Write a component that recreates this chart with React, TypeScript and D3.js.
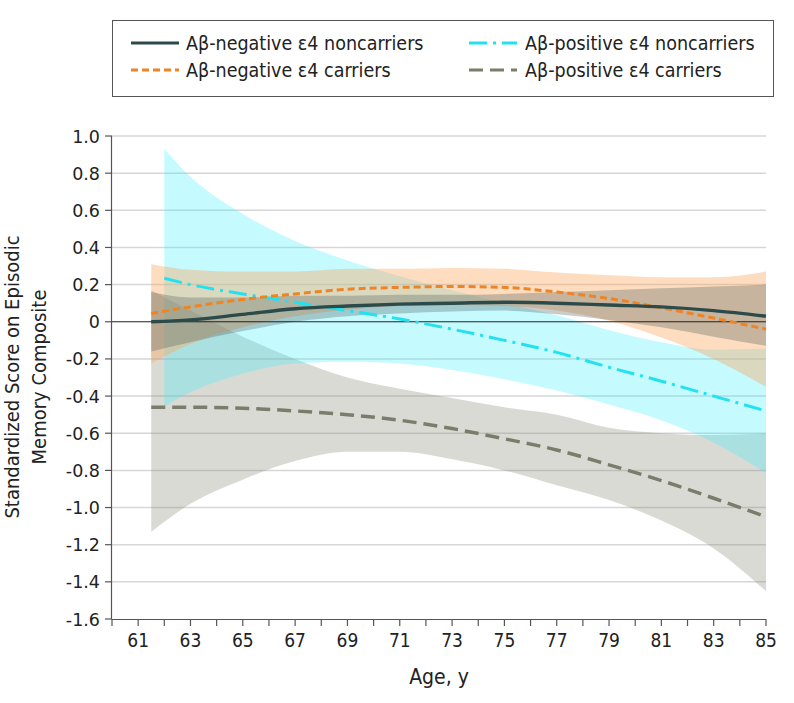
import React from "react";
import * as d3 from "d3";

const agesFull = [61.5, 63, 65, 67, 69, 71, 73, 75, 77, 79, 81, 83, 85];
const agesPosNon = [62, 63, 65, 67, 69, 71, 73, 75, 77, 79, 81, 83, 85];

const negNonMean = [0.0, 0.01, 0.04, 0.07, 0.085, 0.095, 0.1, 0.105, 0.1, 0.09, 0.08, 0.06, 0.03];
const negNonUpper = [0.16, 0.13, 0.13, 0.14, 0.14, 0.145, 0.145, 0.15, 0.16, 0.17, 0.18, 0.19, 0.2];
const negNonLower = [-0.16, -0.11, -0.05, 0.0, 0.03, 0.045, 0.055, 0.06, 0.04, 0.01, -0.03, -0.08, -0.13];

const negCarMean = [0.045, 0.08, 0.12, 0.15, 0.175, 0.185, 0.19, 0.185, 0.16, 0.125, 0.075, 0.02, -0.04];
const negCarUpper = [0.31, 0.28, 0.27, 0.27, 0.285, 0.285, 0.29, 0.285, 0.265, 0.25, 0.24, 0.24, 0.27];
const negCarLower = [-0.225, -0.12, -0.03, 0.03, 0.065, 0.085, 0.09, 0.085, 0.06, 0.005, -0.085, -0.2, -0.35];

const posNonMean = [0.234, 0.2, 0.15, 0.105, 0.06, 0.015, -0.04, -0.1, -0.165, -0.245, -0.32, -0.4, -0.48];
const posNonUpper = [0.93, 0.78, 0.58, 0.435, 0.33, 0.245, 0.17, 0.1, 0.035, -0.045, -0.11, -0.15, -0.145];
const posNonLower = [-0.456, -0.38, -0.28, -0.225, -0.215, -0.225, -0.26, -0.31, -0.37, -0.445, -0.53, -0.65, -0.815];

const posCarMean = [-0.46, -0.46, -0.465, -0.48, -0.5, -0.53, -0.575, -0.63, -0.69, -0.77, -0.855, -0.95, -1.05];
const posCarUpper = [0.17, 0.06, -0.08, -0.2, -0.3, -0.36, -0.41, -0.46, -0.5, -0.57, -0.6, -0.61, -0.6];
const posCarLower = [-1.13, -0.98, -0.85, -0.75, -0.7, -0.7, -0.74, -0.8, -0.88, -0.96, -1.07, -1.22, -1.45];

const yTicks = [1.0, 0.8, 0.6, 0.4, 0.2, 0, -0.2, -0.4, -0.6, -0.8, -1.0, -1.2, -1.4, -1.6];
const yTickLabels = ["1.0", "0.8", "0.6", "0.4", "0.2", "0", "-0.2", "-0.4", "-0.6", "-0.8", "-1.0", "-1.2", "-1.4", "-1.6"];
const xMinorTicks = d3.range(60, 86, 1);
const xLabelTicks = [61, 63, 65, 67, 69, 71, 73, 75, 77, 79, 81, 83, 85];

const seriesNames = [
  "Aβ-negative ε4 noncarriers",
  "Aβ-negative ε4 carriers",
  "Aβ-positive ε4 noncarriers",
  "Aβ-positive ε4 carriers",
];

const COND = "'DejaVu Sans Condensed', 'DejaVu Sans', sans-serif";

export default function App() {
  const x = d3.scaleLinear().domain([60, 85]).range([112, 766]);
  const y = d3.scaleLinear().domain([-1.6, 1.0]).range([619, 136]);

  const mk = (ages: number[], mean: number[], lo: number[], hi: number[]) =>
    ages.map((a, i) => ({ a, m: mean[i], lo: lo[i], hi: hi[i] }));

  const series = [
    { name: seriesNames[0], d: mk(agesFull, negNonMean, negNonLower, negNonUpper), line: "#2c4a4a", w: 3.4, dash: "", band: "#4a5a55", bo: 0.3 },
    { name: seriesNames[1], d: mk(agesFull, negCarMean, negCarLower, negCarUpper), line: "#ee8424", w: 3, dash: "7,4", band: "#faa860", bo: 0.4 },
    { name: seriesNames[2], d: mk(agesPosNon, posNonMean, posNonLower, posNonUpper), line: "#22e2ef", w: 3, dash: "18,6,3,6", band: "#3ff0ff", bo: 0.3 },
    { name: seriesNames[3], d: mk(agesFull, posCarMean, posCarLower, posCarUpper), line: "#7c7c6c", w: 3.5, dash: "14,7", band: "#8f8f80", bo: 0.33 },
  ];

  type P = { a: number; m: number; lo: number; hi: number };
  const area = d3.area<P>().x((p) => x(p.a)).y0((p) => y(p.lo)).y1((p) => y(p.hi)).curve(d3.curveMonotoneX);
  const line = d3.line<P>().x((p) => x(p.a)).y((p) => y(p.m)).curve(d3.curveMonotoneX);

  const bandOrder = [3, 2, 1, 0];
  const lineOrder = [3, 2, 1, 0];

  const legendItems = [
    { s: series[0], lx: 131, tx: 186, ly: 43 },
    { s: series[1], lx: 131, tx: 186, ly: 70 },
    { s: series[2], lx: 469, tx: 525, ly: 43 },
    { s: series[3], lx: 469, tx: 525, ly: 70 },
  ];

  return (
    <svg width={794} height={703} style={{ position: "absolute", left: 0, top: 0, background: "#fff" }}>
      {/* legend */}
      <rect x={112.5} y={20.5} width={661} height={76} fill="#fff" stroke="#555" strokeWidth={1} />
      {legendItems.map((it, i) => (
        <g key={i}>
          <line x1={it.lx} x2={it.lx + 48} y1={it.ly} y2={it.ly} stroke={it.s.line} strokeWidth={3} strokeDasharray={it.s.dash || undefined} />
          <text x={it.tx} y={it.ly + 7} fontFamily={COND} fontSize={19.5} fill="#222">{it.s.name}</text>
        </g>
      ))}

      {/* gridlines */}
      {yTicks.filter((t) => t !== 0 && t !== -1.6).map((t) => (
        <line key={t} x1={112} x2={766} y1={y(t)} y2={y(t)} stroke="#d6d6d6" strokeWidth={1.5} />
      ))}

      {/* bands */}
      {bandOrder.map((i) => (
        <path key={"b" + i} d={area(series[i].d as P[]) || ""} fill={series[i].band} fillOpacity={series[i].bo} />
      ))}

      {/* zero line */}
      <line x1={112} x2={766} y1={y(0)} y2={y(0)} stroke="#222" strokeWidth={1} />

      {/* lines */}
      {lineOrder.map((i) => (
        <path key={"l" + i} d={line(series[i].d as P[]) || ""} fill="none" stroke={series[i].line} strokeWidth={series[i].w} strokeDasharray={series[i].dash || undefined} />
      ))}

      {/* y axis */}
      <line x1={111.5} x2={111.5} y1={y(1.0)} y2={y(-1.6)} stroke="#555" strokeWidth={1.2} />
      {yTicks.map((t, i) => (
        <g key={"yt" + i}>
          <line x1={105} x2={112} y1={y(t)} y2={y(t)} stroke="#555" strokeWidth={1.2} />
          <text x={100} y={y(t) + 6.5} textAnchor="end" fontFamily="'DejaVu Sans', sans-serif" fontSize={17.5} fill="#222">{yTickLabels[i]}</text>
        </g>
      ))}

      {/* x axis */}
      <line x1={112} x2={766} y1={619.5} y2={619.5} stroke="#555" strokeWidth={1.2} />
      {xMinorTicks.map((t) => (
        <line key={"xt" + t} x1={x(t)} x2={x(t)} y1={619} y2={626} stroke="#555" strokeWidth={1.2} />
      ))}
      {xLabelTicks.map((t) => (
        <text key={"xl" + t} x={x(t)} y={647} textAnchor="middle" fontFamily={COND} fontSize={19} fill="#222">{t}</text>
      ))}

      {/* axis titles */}
      <text x={439} y={684} textAnchor="middle" fontFamily={COND} fontSize={21} fill="#222">Age, y</text>
      <g transform="translate(0,377) rotate(-90)">
        <text x={0} y={19} textAnchor="middle" fontFamily={COND} fontSize={20} fill="#222">Standardized Score on Episodic</text>
        <text x={0} y={46} textAnchor="middle" fontFamily={COND} fontSize={20} fill="#222">Memory Composite</text>
      </g>
    </svg>
  );
}
